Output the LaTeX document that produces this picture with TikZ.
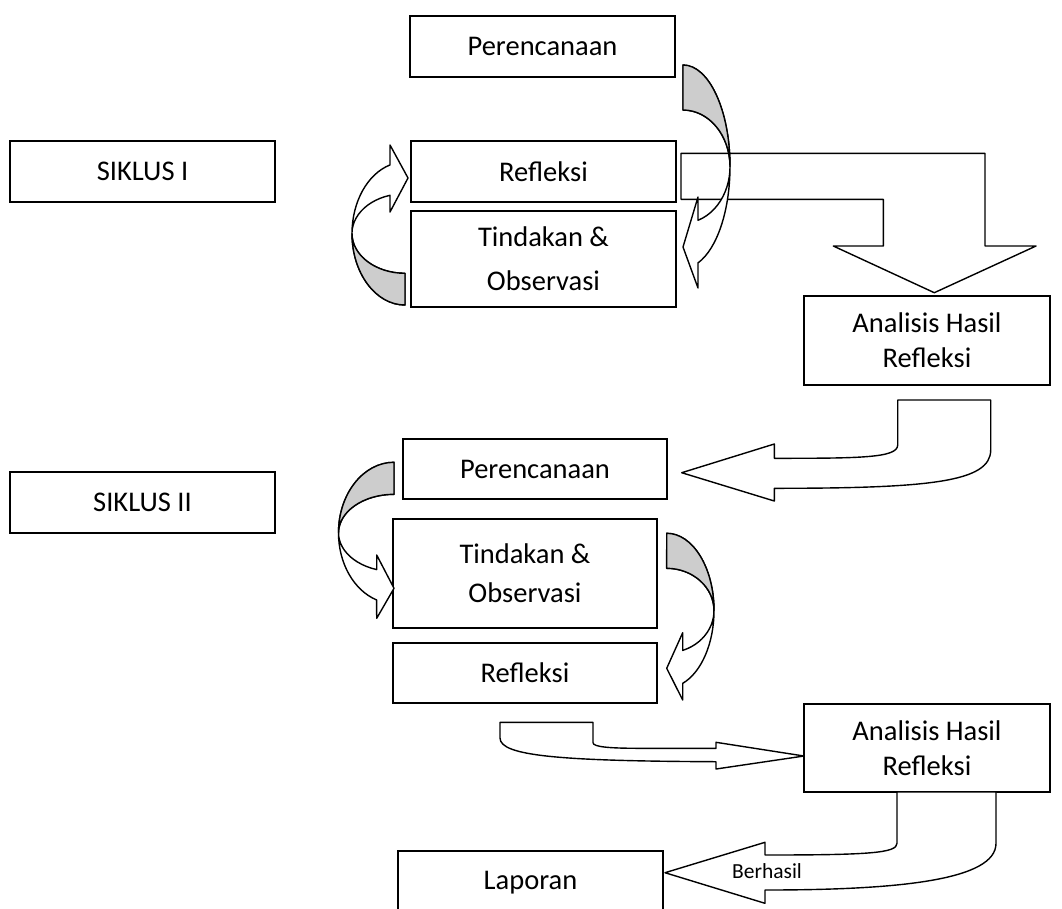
\documentclass[tikz,border=0pt]{standalone}
\usepackage{fontspec}
\setmainfont{Carlito}
\usepackage{tikz}
\usetikzlibrary{calc}

\definecolor{backside}{RGB}{205,205,205}
\tikzset{
  box/.style={draw, line width=1.5pt, inner sep=0pt, align=center,
    font=\fontsize{28.5}{35}\selectfont},
  blk/.style={draw, line width=1.4pt, line join=round, fill=white},
  back/.style={fill=backside},
}

\begin{document}
\begin{tikzpicture}[x=1pt, y=-1pt]
      \useasboundingbox (0,0) rectangle (1062,908);
      % boxes
      \node[box, minimum width=265, minimum height=61] (siklus1) at (142.5,171.5) {SIKLUS I};
      \node[box, minimum width=265, minimum height=61] (siklus2) at (142.5,502.5) {SIKLUS II};
      \node[box, minimum width=265, minimum height=61] (per1) at (542.5,46.5) {Perencanaan};
      \node[box, minimum width=265, minimum height=61] (ref1) at (543.5,171.5) {Refleksi};
      \node[box, minimum width=265, minimum height=96, font=\fontsize{28.5}{44}\selectfont] (tin1) at (543.5,259) {Tindakan \&\\Observasi};
      \node[box, minimum width=246, minimum height=89] (ana1) at (927,340.5) {Analisis Hasil\\Refleksi};
      \node[box, minimum width=264, minimum height=60] (per2) at (535,469) {Perencanaan};
      \node[box, minimum width=264, minimum height=109, font=\fontsize{28.5}{39}\selectfont] (tin2) at (525,573.5) {Tindakan \&\\Observasi};
      \node[box, minimum width=264, minimum height=60] (ref2) at (525,673) {Refleksi};
      \node[box, minimum width=246, minimum height=88] (ana2) at (927,748) {Analisis Hasil\\Refleksi};
      \node[box, minimum width=265, minimum height=64] (lap) at (530.5,883) {Laporan};

      % bent arrow to first analysis
      \draw[blk] (681,153.3) -- (985,153.3) -- (985,246) -- (1036,246) -- (934.3,292.7)
            -- (833.3,246) -- (883.3,246) -- (883.3,199.3) -- (681,199.3) -- cycle;

      % curved arrow, cycle I right
      \draw[blk] (683,65) arc[start angle=-90, end angle=71.4, x radius=47, y radius=101.6]
            -- (698,288) -- (683,247) -- (698,197) -- (698,220.3)
            arc[start angle=71.4, end angle=-90, x radius=47, y radius=56.6] -- cycle;
      \draw[blk, back] (683,65) arc[start angle=-90, end angle=0, x radius=47, y radius=101.6]
            arc[start angle=0, end angle=-90, x radius=47, y radius=56.6] -- cycle;

      % curved arrow, cycle I left
      \draw[blk] (405,305) arc[start angle=90, end angle=253.6, x radius=53, y radius=71.5]
            -- (390,145) -- (408,178) -- (390,212) -- (390,195.3)
            arc[start angle=253.6, end angle=90, x radius=53, y radius=39.8] -- cycle;
      \draw[blk, back] (405,305) arc[start angle=90, end angle=180, x radius=53, y radius=71.5]
            arc[start angle=180, end angle=90, x radius=53, y radius=39.8] -- cycle;

      % u-turn arrow to second planning
      \draw[blk] (897.7,400) -- (990.7,400) -- (990.7,450)
            .. controls (990.7,482) and (930,488.3) .. (774.3,488.3)
            -- (774.3,501) -- (681.7,472.7) -- (774.3,444) -- (774.3,458.3)
            .. controls (860,458.3) and (897.7,458) .. (897.7,445) -- cycle;

      % curved arrow, cycle II left
      \draw[blk] (394,462.3) arc[start angle=270, end angle=108.2, x radius=55.5, y radius=70.6]
            -- (376.7,618.3) -- (394,588.3) -- (376.7,555) -- (376.7,569.6)
            arc[start angle=108.2, end angle=270, x radius=55.5, y radius=38.6] -- cycle;
      \draw[blk, back] (394,462.3) arc[start angle=270, end angle=180, x radius=55.5, y radius=70.6]
            arc[start angle=180, end angle=270, x radius=55.5, y radius=38.6] -- cycle;

      % curved arrow, cycle II right
      \draw[blk] (666.7,533.3) arc[start angle=-90, end angle=70.2, x radius=47.3, y radius=77.3]
            -- (682.7,700) -- (666.7,668.3) -- (682.7,632.7) -- (682.7,650.4)
            arc[start angle=70.2, end angle=-90, x radius=47.3, y radius=42.3] -- cycle;
      \draw[blk, back] (666.7,533.3) arc[start angle=-90, end angle=0, x radius=47.3, y radius=77.3]
            arc[start angle=0, end angle=-90, x radius=47.3, y radius=42.3] -- cycle;

      % arrow to second analysis
      \draw[blk] (500,722.3) -- (593,722.3) -- (593,742.7)
            .. controls (593,747) and (610,748.3) .. (640,748.3) -- (716,748.3)
            -- (716,742.3) -- (804,756) -- (716,769) -- (716,761.7)
            .. controls (560,761) and (500,756) .. (500,738) -- cycle;

      % arrow to report
      \draw[blk] (897,792) -- (897,843.3) .. controls (897,853) and (870,855) .. (765,855)
            -- (765,842.3) -- (665,872.7) -- (765,903.3) -- (765,890)
            .. controls (900,890) and (996,880) .. (996,843.3) -- (996,792) -- cycle;
      \node[font=\fontsize{21.5}{26}\selectfont, inner sep=0pt] (ok) at (767,871) {Berhasil};
\end{tikzpicture}
\end{document}
